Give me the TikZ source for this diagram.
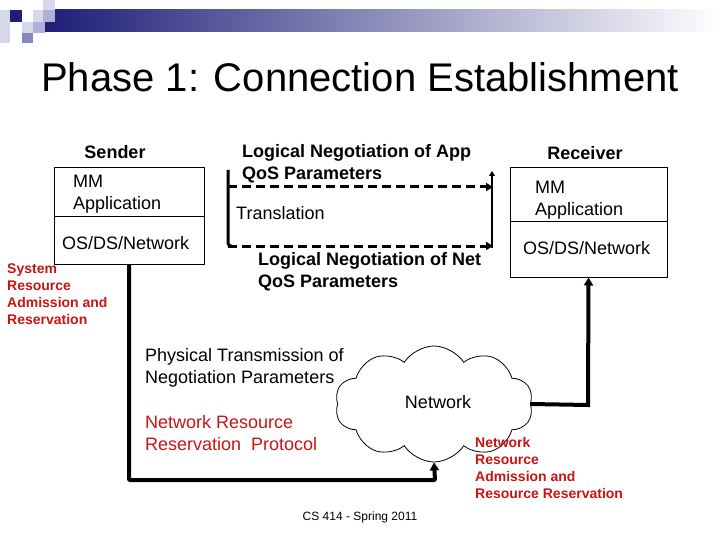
\documentclass[tikz,border=0pt]{standalone}
\usepackage{fontspec}
\setmainfont{Liberation Sans}
\usetikzlibrary{arrows.meta,shapes.symbols}
\definecolor{navy}{RGB}{30,30,120}
\definecolor{lav1}{RGB}{215,215,235}
\definecolor{lav2}{RGB}{175,175,215}
\definecolor{lav3}{RGB}{135,135,190}
\definecolor{redtxt}{RGB}{200,20,20}
\tikzset{
  txt/.style={font=\fontsize{18}{22}\selectfont, inner sep=0pt, align=left},
  btxt/.style={font=\fontsize{18}{22}\selectfont\bfseries, inner sep=0pt, align=left},
  redsmall/.style={font=\fontsize{14}{17}\selectfont\bfseries, text=redtxt, inner sep=0pt, align=left},
  boxpart/.style={draw, line width=1pt, inner sep=0pt},
  heavy/.style={line width=4pt, -{Triangle[length=8pt,width=9pt]}},
  brack/.style={line width=3pt},
  dashline/.style={line width=3pt, dash pattern=on 9pt off 5pt, -{Triangle[length=7pt,width=8pt]}},
}
\begin{document}
\begin{tikzpicture}[x=1pt,y=-1pt]
\useasboundingbox (0,0) rectangle (720,540);
% decoration
\shade[left color=navy, right color=white] (45,10) rectangle (720,32);
\fill[lav1] (0,10) rectangle (10,43);
\fill[navy] (10,10) rectangle (22,22);
\fill[lav1] (43,0) rectangle (55,10);
\fill[lav1] (33,10) rectangle (43,22);
\fill[lav2] (43,10) rectangle (55,22);
\fill[lav1] (22,22) rectangle (33,33);
\fill[lav2] (33,22) rectangle (45,33);
\fill[lav3] (22,33) rectangle (33,43);
% title
\node[font=\fontsize{40}{48}\selectfont, inner sep=0pt] (title) at (360,77) {Phase 1: Connection Establishment};
% sender
\node[btxt] (slabel) at (115,152) {Sender};
\node[boxpart, minimum width=150pt, minimum height=49pt] (sapp) at (129,192.5) {};
\node[boxpart, minimum width=150pt, minimum height=47pt] (sos) at (129,240.5) {};
\node[txt, anchor=west] (sapptxt) at (73,194.5) {MM\\Application};
\node[txt, anchor=west] (sostxt) at (62,243) {OS/DS/Network};
% receiver
\node[btxt] (rlabel) at (585,153) {Receiver};
\node[boxpart, minimum width=157pt, minimum height=54pt] (rapp) at (588.5,195) {};
\node[boxpart, minimum width=157pt, minimum height=55pt] (ros) at (588.5,249.5) {};
\node[txt, anchor=west] (rapptxt) at (535,200) {MM\\Application};
\node[txt, anchor=west] (rostxt) at (523,248) {OS/DS/Network};
% middle negotiation
\node[btxt, anchor=west] (appneg) at (242,163.5) {Logical Negotiation of App\\QoS Parameters};
\node[txt, anchor=west] (transl) at (236,213) {Translation};
\node[btxt, anchor=west] (netneg) at (258,271.5) {Logical Negotiation of Net\\QoS Parameters};
\coordinate (lt) at (228,170);
\coordinate (lb) at (228,246);
\coordinate (ltd) at (228,187);
\coordinate (rt) at (493,187);
\coordinate (rb) at (493,246);
\coordinate (rtop) at (492,171);
\coordinate (rbot) at (492,247.5);
\draw[brack, rounded corners=3pt] (lt) -- (lb) -- (232,246);
\draw[dashline] (ltd) -- (rt);
\draw[dashline] (lb) -- (rb);
\draw[line width=2.5pt, -{Triangle[length=5pt,width=6pt]}] (rbot) -- (rtop);
% red system text
\node[redsmall, anchor=north west] (sysres) at (7,264) {System\\Resource\\Admission and\\Reservation};
% physical
\node[txt, anchor=west] (phys) at (145,368) {Physical Transmission of\\Negotiation Parameters};
\node[txt, anchor=west, text=redtxt] (nrrp) at (145,433) {Network Resource\\Reservation\ \ Protocol};
% cloud
\node[cloud, draw, line width=0.8pt, cloud puffs=10, cloud puff arc=115, aspect=1.7, minimum width=198pt, minimum height=116pt, inner sep=0pt] (net) at (434,404) {};
\node[txt] (nettxt) at (438,402) {Network};
\node[redsmall, anchor=north west] (nrar) at (475,437) {Network\\Resource\\Admission and\\Resource Reservation};
% connectors
\coordinate (b1) at (435,480);
\coordinate (c1) at (588,405);
\draw[heavy, rounded corners=1pt] (sos.south) |- (b1) -- (net.south);
\draw[heavy] (net.east) -- (c1) -- (ros.south);
% footer
\node[font=\fontsize{12}{14}\selectfont, inner sep=0pt] (footer) at (360,517) {CS 414 - Spring 2011};
\end{tikzpicture}
\end{document}
